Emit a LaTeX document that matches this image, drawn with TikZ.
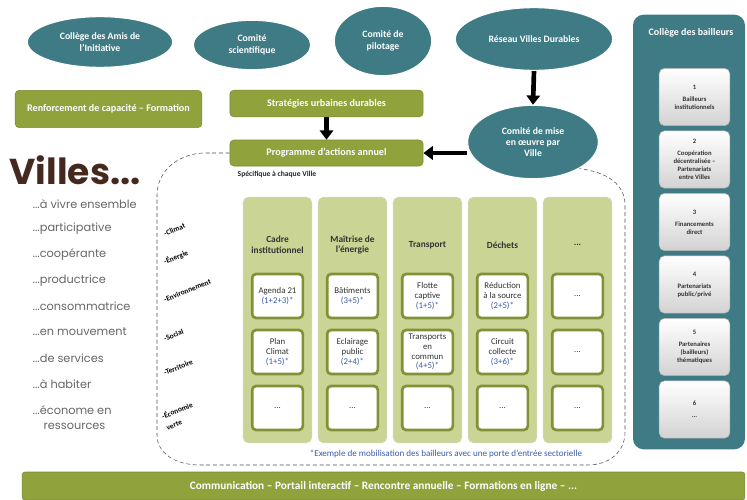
\documentclass[tikz,border=0pt]{standalone}
\usepackage{fontspec}
\setmainfont{Carlito}
\newfontfamily\villesfont{Poppins}
\usetikzlibrary{calc,positioning,shapes.geometric,arrows.meta}
\pgfdeclarelayer{back}
\pgfsetlayers{back,main}

\definecolor{sarcelle}{HTML}{3F7B85}
\definecolor{vertolive}{HTML}{8FA23C}
\definecolor{vertpale}{HTML}{C9D495}
\definecolor{bleunum}{HTML}{3A5BA8}
\definecolor{brunvilles}{HTML}{45291E}
\newcommand{\numbail}[1]{{\color{bleunum}#1}}
\newcommand{\suite}{...}

\tikzset{
  comite/.style={ellipse, fill=sarcelle, draw=white, thick, text=white, align=center,
    inner sep=0pt, font=\bfseries\fontsize{7.3}{8.5}\selectfont},
  bande/.style={rectangle, rounded corners=3pt, fill=vertolive, draw=vertolive!85!black,
    text=white, font=\bfseries\fontsize{7.6}{9}\selectfont},
  fleche/.style={-{Triangle[length=7pt,width=10pt]}, line width=3.5pt},
  colonne/.style={rectangle, rounded corners=4pt, fill=vertpale, draw=vertolive!45,
    line width=.8pt, minimum width=51pt, minimum height=184pt},
  entete/.style={align=center, text=black!80, font=\bfseries\fontsize{7}{8}\selectfont},
  fiche/.style={rectangle, rounded corners=3pt, fill=white, draw=vertolive!90!black,
    line width=2pt, minimum width=38pt, minimum height=33pt, align=center, inner sep=.5pt,
    text=black!80, font=\fontsize{6.6}{7.2}\selectfont},
  bailleur/.style={rectangle, rounded corners=4pt, top color=white, bottom color=gray!35,
    draw=gray!60, minimum width=53pt, minimum height=43pt, align=center, inner sep=1pt,
    text=black!80, font=\bfseries\fontsize{5}{6}\selectfont},
  qualite/.style={anchor=west, text=black!60, font=\villesfont\fontsize{8.5}{9}\selectfont},
  theme/.style={anchor=west, rotate=22, align=left, inner sep=0pt,
    font=\bfseries\fontsize{5.6}{9}\selectfont},
  zone/.style={densely dashed, gray!60!black, thin}
}

\begin{document}
\begin{tikzpicture}[x=0.75pt,y=-0.75pt]

  \useasboundingbox (0,0) rectangle (747,500);

  % comites
  \node [comite, minimum width=109pt, minimum height=38pt] (amis) at (100,42) {Collège des Amis de\\l'Initiative};
  \node [comite, minimum width=88pt, minimum height=37pt] (scientifique) at (252,45) {Comité\\scientifique};
  \node [comite, minimum width=73pt, minimum height=52pt] (pilotage) at (383,41) {Comité de\\pilotage};
  \node [comite, minimum width=118pt, minimum height=47pt] (reseau) at (534,39) {Réseau Villes Durables};
  \node [comite, minimum width=98pt, minimum height=55pt] (miseenoeuvre) at (533,142) {Comité de mise\\en œuvre par\\Ville};

  \node [bande, minimum width=140pt, minimum height=28pt] (renforcement) at (108.5,109) {Renforcement de capacité – Formation};
  \node [bande, minimum width=145pt, minimum height=20pt] (strategies) at (326.5,103.5) {Stratégies urbaines durables};
  \node [bande, minimum width=145pt, minimum height=19.5pt] (programme) at (326.5,153) {Programme d'actions annuel};
  \node [anchor=west, text=black!85, font=\bfseries\fontsize{5.7}{6.5}\selectfont] (specifique) at (233,174) {Spécifique à chaque Ville};

  \begin{pgfonlayer}{back}
    \draw [fleche] (strategies.south) -- (programme.north);
    \draw [fleche] (reseau.south) -- (miseenoeuvre.north);
    \draw [fleche] (miseenoeuvre.west |- programme.east) -- (programme.east);
    \draw [zone] (programme.west) -- (205,153) .. controls (180,153) and (157,170) .. (157,195)
      -- (157,435) .. controls (157,453) and (175,465) .. (200,465) -- (588,465)
      .. controls (608,465) and (625,453) .. (625,432) -- (625,205)
      .. controls (625,185) and (608,172) .. (miseenoeuvre.-30);
  \end{pgfonlayer}

  % villes
  \node [anchor=west, text=brunvilles, font=\villesfont\bfseries\fontsize{27}{27}\selectfont] (villes) at (5,170) {Villes\suite};
  \foreach \y/\txt [count=\q] in {204/à vivre ensemble, 229/participative, 255/coopérante,
      281/productrice, 306/consommatrice, 332/en mouvement, 358/de services, 384/à habiter,
      410/économe en}
  {
    \node [qualite] (qualite_\q) at (28,\y) {\suite\txt};
  }
  \node [qualite] (qualite_ressources) at (39,426) {ressources};

  \foreach \y/\txt [count=\t] in {234/Climat, 262/Énergie, 300/Environnement, 339/Social,
      373/Territoire, 422/{Économie\\verte}}
  {
    \node [theme] (theme_\t) at (164,\y) {-\txt};
  }

  % secteurs
  \foreach \n/\titre in {0/{Cadre\\institutionnel}, 1/{Maîtrise de\\l'énergie}, 2/Transport, 3/Déchets, 4/\suite}
  {
    \node [colonne] (col_\n) at ({277.5+75*\n},320) {};
    \node [entete] (entete_\n) at ({277.5+75*\n},245) {\titre};
  }
  \foreach \n/\r/\txt in {0/0/{Agenda 21\\\numbail{(1+2+3)*}}, 0/1/{Plan\\Climat\\\numbail{(1+5)*}}, 0/2/\suite,
      1/0/{Bâtiments\\\numbail{(3+5)*}}, 1/1/{Eclairage\\public\\\numbail{(2+4)*}}, 1/2/\suite,
      2/0/{Flotte\\captive\\\numbail{(1+5)*}}, 2/1/{Transports\\en\\commun\\\numbail{(4+5)*}}, 2/2/\suite,
      3/0/{Réduction\\à la source\\\numbail{(2+5)*}}, 3/1/{Circuit\\collecte\\\numbail{(3+6)*}}, 3/2/\suite,
      4/0/\suite, 4/1/\suite, 4/2/\suite}
  {
    \node [fiche] (fiche_\n_\r) at ({277.5+75*\n},{296+56*\r}) {\txt};
  }
  \node [text=bleunum, font=\fontsize{6.8}{8}\selectfont] (note) at (446,454) {*Exemple de mobilisation des bailleurs avec une porte d'entrée sectorielle};

  % bailleurs
  \node [rectangle, rounded corners=8pt, fill=sarcelle, minimum width=84pt, minimum height=326pt] (bailleurs) at (689,232) {};
  \node [text=white, font=\bfseries\fontsize{7.5}{8.5}\selectfont] (titre_bailleurs) at (691,33) {Collège des bailleurs};
  \foreach \k/\txt in {1/{Bailleurs\\institutionnels}, 2/{Coopération\\décentralisée –\\Partenariats\\entre Villes},
      3/{Financements\\direct}, 4/{Partenariats\\public/privé}, 5/{Partenaires\\(bailleurs)\\thématiques}, 6/\suite}
  {
    \node [bailleur] (bailleur_\k) at (694.5,{97+62.5*(\k-1)}) {\k\\[3pt]\txt};
  }

  \node [bande, rounded corners=2pt, minimum width=542pt, minimum height=21pt, font=\bfseries\fontsize{8.5}{10}\selectfont] (communication) at (383.5,486)
    {Communication – Portail interactif – Rencontre annuelle – Formations en ligne – \suite};

\end{tikzpicture}
\end{document}
